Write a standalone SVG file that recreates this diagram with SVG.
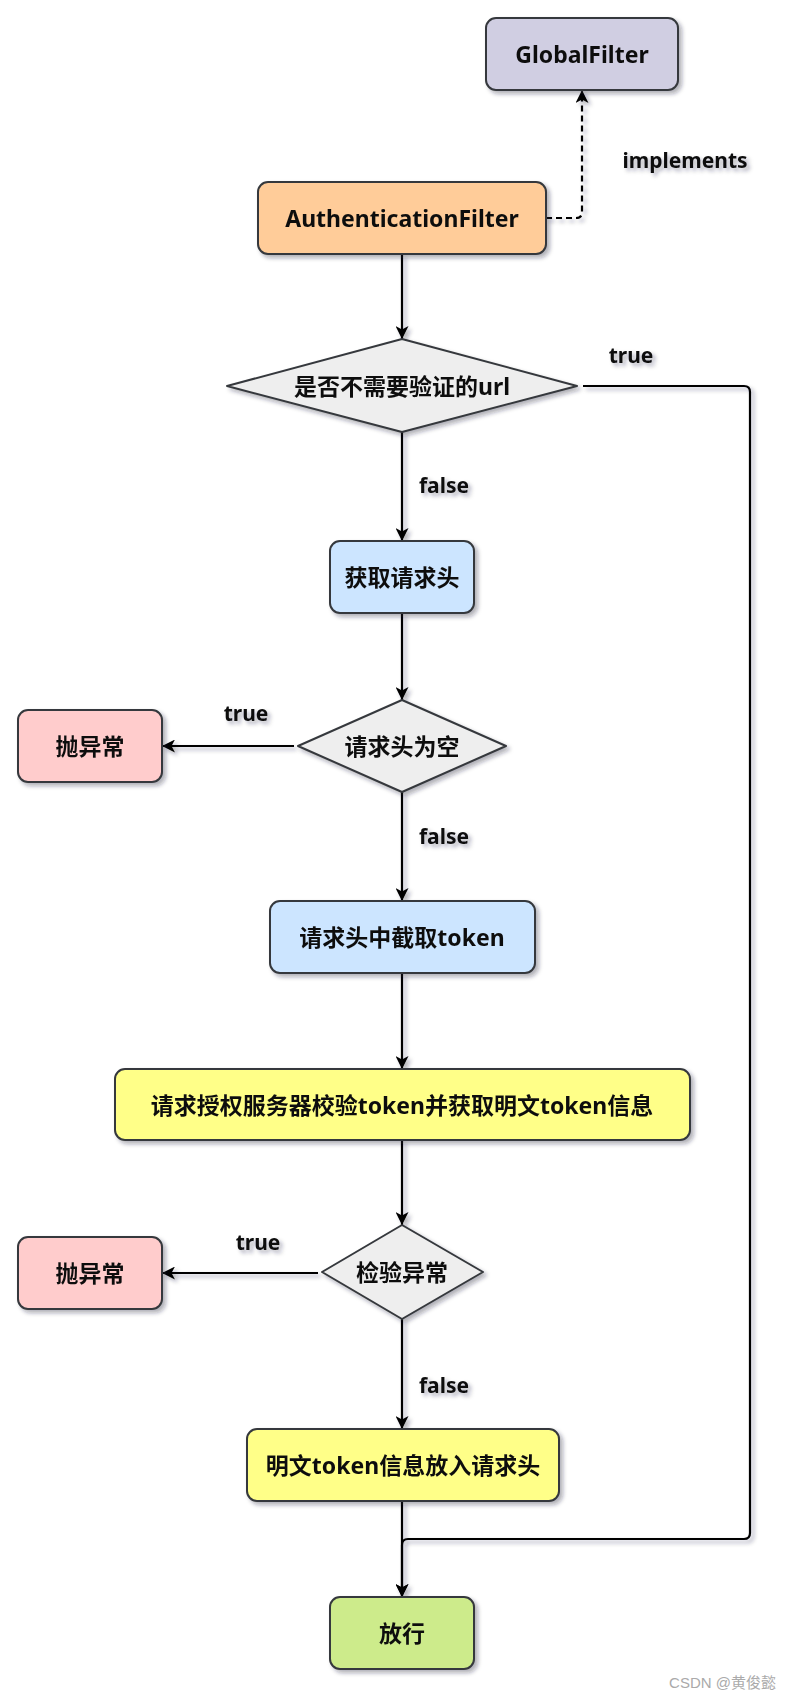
<svg xmlns="http://www.w3.org/2000/svg" width="791" height="1700" viewBox="0 0 791 1700">
<style>
.n{stroke:#36393d;stroke-width:2}
.t{font-family:"Noto Sans","Noto Sans CJK SC",sans-serif;font-weight:bold;font-size:23px;fill:#111;text-anchor:middle;dominant-baseline:central}
.l{font-family:"Noto Sans","Noto Sans CJK SC",sans-serif;font-weight:bold;font-size:21px;fill:#111;text-anchor:middle;dominant-baseline:central}
.c{fill:none;stroke:#000;stroke-width:2.2}
</style>
<defs>
<filter id="sh" x="-20%" y="-20%" width="140%" height="140%">
<feDropShadow dx="3" dy="3" stdDeviation="2" flood-color="#223" flood-opacity="0.35"/>
</filter>
<marker id="arr" markerUnits="userSpaceOnUse" viewBox="0 0 13 13" refX="13" refY="6.5" markerWidth="13" markerHeight="13" orient="auto">
<path d="M0,0 L13,6.5 L0,13 L3.5,6.5 Z" fill="#000"/>
</marker>
</defs>
<rect width="791" height="1700" fill="#fff"/>

<g id="connectors" filter="url(#sh)">
<path class="c" d="M546 218 H576 Q582 218 582 212 V90" stroke-dasharray="6 4" marker-end="url(#arr)"/>
<path class="c" d="M402 254 V339" marker-end="url(#arr)"/>
<path class="c" d="M402 432 V541" marker-end="url(#arr)"/>
<path class="c" d="M402 613 V700" marker-end="url(#arr)"/>
<path class="c" d="M294 746 H162" marker-end="url(#arr)"/>
<path class="c" d="M402 792 V901" marker-end="url(#arr)"/>
<path class="c" d="M402 973 V1069" marker-end="url(#arr)"/>
<path class="c" d="M402 1140 V1225" marker-end="url(#arr)"/>
<path class="c" d="M318 1273 H162" marker-end="url(#arr)"/>
<path class="c" d="M402 1319 V1429" marker-end="url(#arr)"/>
<path class="c" d="M402 1501 V1597" marker-end="url(#arr)"/>
<path class="c" d="M583 386 H744 Q750 386 750 392 V1533 Q750 1539 744 1539 H408 Q402 1539 402 1545 V1597" marker-end="url(#arr)"/>
<text class="l" x="685" y="160">implements</text>
<text class="l" x="631" y="355">true</text>
<text class="l" x="444" y="485">false</text>
<text class="l" x="246" y="713">true</text>
<text class="l" x="444" y="836">false</text>
<text class="l" x="258" y="1242">true</text>
<text class="l" x="444" y="1385">false</text>
</g>

<g id="globalfilter" filter="url(#sh)">
<rect class="n" x="486" y="18" width="192" height="72" rx="10" fill="#d0cee2"/>
<text class="t" x="582" y="54">GlobalFilter</text>
</g>
<g id="authfilter" filter="url(#sh)">
<rect class="n" x="258" y="182" width="288" height="72" rx="10" fill="#ffcc99"/>
<text class="t" x="402" y="218">AuthenticationFilter</text>
</g>
<g id="d1" filter="url(#sh)">
<polygon class="n" points="402,339 577,386 402,432 227,386" fill="#eeeeee" stroke-linejoin="round"/>
<text class="t" x="402" y="386">是否不需要验证的url</text>
</g>
<g id="getheader" filter="url(#sh)">
<rect class="n" x="330" y="541" width="144" height="72" rx="10" fill="#cce5ff"/>
<text class="t" x="402" y="577">获取请求头</text>
</g>
<g id="d2" filter="url(#sh)">
<polygon class="n" points="402,700 506,746 402,792 298,746" fill="#eeeeee" stroke-linejoin="round"/>
<text class="t" x="402" y="746">请求头为空</text>
</g>
<g id="throw1" filter="url(#sh)">
<rect class="n" x="18" y="710" width="144" height="72" rx="10" fill="#ffcccc"/>
<text class="t" x="90" y="746">抛异常</text>
</g>
<g id="extract" filter="url(#sh)">
<rect class="n" x="270" y="901" width="265" height="72" rx="10" fill="#cce5ff"/>
<text class="t" x="402" y="937">请求头中截取token</text>
</g>
<g id="verify" filter="url(#sh)">
<rect class="n" x="115" y="1069" width="575" height="71" rx="10" fill="#ffff88"/>
<text class="t" x="402" y="1105">请求授权服务器校验token并获取明文token信息</text>
</g>
<g id="d3" filter="url(#sh)">
<polygon class="n" points="402,1225 483,1272 402,1319 322,1272" fill="#eeeeee" stroke-linejoin="round"/>
<text class="t" x="402" y="1272">检验异常</text>
</g>
<g id="throw2" filter="url(#sh)">
<rect class="n" x="18" y="1237" width="144" height="72" rx="10" fill="#ffcccc"/>
<text class="t" x="90" y="1273">抛异常</text>
</g>
<g id="putheader" filter="url(#sh)">
<rect class="n" x="247" y="1429" width="312" height="72" rx="10" fill="#ffff88"/>
<text class="t" x="403" y="1465">明文token信息放入请求头</text>
</g>
<g id="pass" filter="url(#sh)">
<rect class="n" x="330" y="1597" width="144" height="72" rx="10" fill="#cdeb8b"/>
<text class="t" x="402" y="1633">放行</text>
</g>
<text x="776" y="1688" text-anchor="end" font-family="'Liberation Sans','Noto Sans CJK SC',sans-serif" font-size="15" fill="#aaaaaa">CSDN @黄俊懿</text>
</svg>
